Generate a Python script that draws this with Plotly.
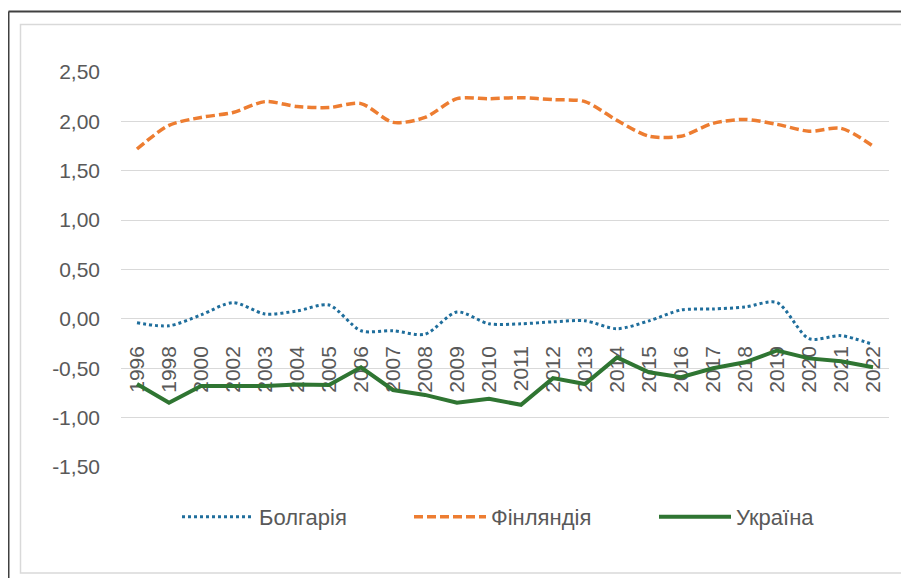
import plotly.graph_objects as go

years = ["1996", "1998", "2000", "2002", "2003", "2004", "2005", "2006", "2007", "2008",
         "2009", "2010", "2011", "2012", "2013", "2014", "2015", "2016", "2017", "2018",
         "2019", "2020", "2021", "2022"]

bulgaria = [-0.04, -0.07, 0.04, 0.165, 0.05, 0.08, 0.14, -0.12, -0.12, -0.155,
            0.07, -0.05, -0.05, -0.03, -0.02, -0.10, -0.02, 0.09, 0.10, 0.12,
            0.165, -0.20, -0.17, -0.26]

finland = [1.72, 1.96, 2.04, 2.09, 2.20, 2.15, 2.14, 2.18, 1.99, 2.04,
           2.23, 2.23, 2.24, 2.22, 2.20, 2.01, 1.85, 1.85, 1.98, 2.02,
           1.97, 1.90, 1.93, 1.75]

ukraine = [-0.66, -0.85, -0.68, -0.685, -0.68, -0.665, -0.67, -0.49, -0.72, -0.77,
           -0.85, -0.81, -0.87, -0.60, -0.66, -0.39, -0.54, -0.59, -0.50, -0.44,
           -0.32, -0.40, -0.43, -0.49]

y_tickvals = [2.5, 2.0, 1.5, 1.0, 0.5, 0.0, -0.5, -1.0, -1.5]
y_ticktext = ["2,50", "2,00", "1,50", "1,00", "0,50", "0,00", "-0,50", "-1,00", "-1,50"]

names = ["Болгарія", "Фінляндія", "Україна"]

# page body has an 8px margin; work in screen pixels and convert
OFF = 8
SW, SH = 909, 578
W, H = SW - OFF, SH - OFF
PX0, PX1 = 121, 889   # plot area, screen px
PY0, PY1 = 72, 467
L, R = PX0 - OFF, SW - PX1
T, B = PY0 - OFF, SH - PY1
plot_w = PX1 - PX0
plot_h = PY1 - PY0

def px_x(x):
    return (x - PX0) / plot_w

def px_y(y):
    return (PY1 - y) / plot_h

fig = go.Figure()
fig.add_trace(go.Scatter(x=years, y=bulgaria, mode="lines", name=names[0], legend="legend",
                         line=dict(color="#1F6E9C", width=3, dash="3px,3px",
                                   shape="spline", smoothing=0.8)))
fig.add_trace(go.Scatter(x=years, y=finland, mode="lines", name=names[1], legend="legend2",
                         line=dict(color="#ED7D31", width=3.5, dash="9px,4px",
                                   shape="spline", smoothing=0.8)))
fig.add_trace(go.Scatter(x=years, y=ukraine, mode="lines", name=names[2], legend="legend3",
                         line=dict(color="#2F7532", width=4)))

zero_pos = (0 - (-1.5)) / (2.5 - (-1.5))

leg_common = dict(orientation="h", yanchor="middle", y=px_y(517), xanchor="left",
                  font=dict(size=22, color="#595959"), itemwidth=72,
                  bgcolor="rgba(0,0,0,0)")

fig.update_layout(
    width=W, height=H, autosize=False,
    margin=dict(l=L, r=R, t=T, b=B),
    paper_bgcolor="white", plot_bgcolor="white",
    font=dict(family="Liberation Sans, Arial, sans-serif", color="#595959", size=21),
    showlegend=True,
    legend=dict(x=px_x(177), **leg_common),
    legend2=dict(x=px_x(409), **leg_common),
    legend3=dict(x=px_x(654), **leg_common),
    xaxis=dict(type="category", range=[-0.5, len(years) - 0.5], showgrid=False,
               zeroline=False, showline=False, ticks="", tickangle=-90,
               anchor="free", position=zero_pos, ticklabelstandoff=22,
               layer="below traces", tickfont=dict(size=21, color="#595959")),
    yaxis=dict(range=[-1.5, 2.5], tickvals=y_tickvals, ticktext=y_ticktext,
               showgrid=True, gridcolor="#D9D9D9", gridwidth=1, zeroline=False,
               showline=False, ticks="", ticklabelstandoff=20,
               tickfont=dict(size=21, color="#595959")),
    shapes=[
        dict(type="rect", xref="paper", yref="paper",
             x0=px_x(20.5), x1=px_x(SW + 20), y0=px_y(573), y1=px_y(24.5),
             line=dict(color="#D9D9D9", width=1.5), layer="below"),
        dict(type="line", xref="paper", yref="paper",
             x0=px_x(8.5), x1=px_x(8.5), y0=px_y(11.5), y1=px_y(SH + 20),
             line=dict(color="#404040", width=2)),
        dict(type="line", xref="paper", yref="paper",
             x0=px_x(8.5), x1=px_x(SW + 20), y0=px_y(11.5), y1=px_y(11.5),
             line=dict(color="#404040", width=2)),
    ],
)

fig.write_html("out.html")
